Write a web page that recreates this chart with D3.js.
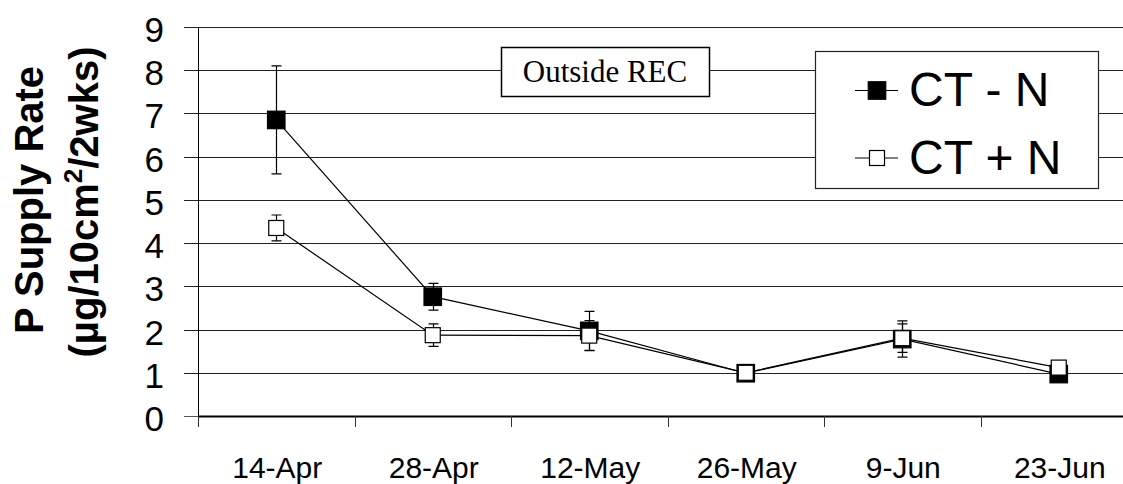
<!DOCTYPE html>
<html>
<head>
<meta charset="utf-8">
<script src="https://cdn.jsdelivr.net/npm/d3@7"></script>
<style>
  body { margin: 0; background: #fff; }
  svg { display: block; }
</style>
</head>
<body>
<svg id="chart"></svg>
<script>
'use strict'

const dates = ['14-Apr', '28-Apr', '12-May', '26-May', '9-Jun', '23-Jun']
const ctMinusN = [6.85, 2.76, 1.97, 0.99, 1.78, 0.97]
const ctMinusNErr = [1.25, 0.31, 0.45, 0.05, 0.42, 0.05]
const ctPlusN = [4.35, 1.87, 1.86, 1.0, 1.8, 1.12]
const ctPlusNErr = [0.3, 0.26, 0.35, 0.05, 0.33, 0.05]
const yTicks = [0, 1, 2, 3, 4, 5, 6, 7, 8, 9]

const width = 1123
const height = 484
const plotLeft = 198
const plotTop = 27
const plotBottom = 416
const band = 156.5

const svg = d3.select('#chart')
  .attr('width', width)
  .attr('height', height)
  .attr('font-family', 'Arial, "Liberation Sans", sans-serif')

const x = d3.scaleBand()
  .domain(dates)
  .range([plotLeft, plotLeft + band * dates.length])

const y = d3.scaleLinear()
  .domain([0, 9])
  .range([plotBottom, plotTop])

const cx = d => x(d) + x.bandwidth() / 2

// gridlines + y ticks
svg.append('g')
  .selectAll('line')
  .data(yTicks.filter(d => d > 0))
  .enter().append('line')
  .attr('x1', plotLeft - 14)
  .attr('x2', width)
  .attr('y1', d => Math.round(y(d)) + 0.5)
  .attr('y2', d => Math.round(y(d)) + 0.5)
  .attr('stroke', '#222')
  .attr('stroke-width', 1)

svg.append('line')
  .attr('x1', plotLeft - 14)
  .attr('x2', plotLeft)
  .attr('y1', Math.round(y(0)) + 0.5)
  .attr('y2', Math.round(y(0)) + 0.5)
  .attr('stroke', '#555')

// y axis line
svg.append('line')
  .attr('x1', plotLeft + 0.5)
  .attr('x2', plotLeft + 0.5)
  .attr('y1', y(9))
  .attr('y2', y(0) + 10)
  .attr('stroke', '#000')

svg.append('g')
  .attr('font-size', 35)
  .attr('text-anchor', 'end')
  .selectAll('text')
  .data(yTicks)
  .enter().append('text')
  .attr('x', 164)
  .attr('y', d => y(d) + 15)
  .text(d => d)

// x axis
svg.append('line')
  .attr('x1', plotLeft)
  .attr('x2', width)
  .attr('y1', y(0) + 0.5)
  .attr('y2', y(0) + 0.5)
  .attr('stroke', '#000')
  .attr('stroke-width', 2.2)

svg.append('g')
  .selectAll('line')
  .data(dates)
  .enter().append('line')
  .attr('x1', d => Math.round(x(d)) + 0.5)
  .attr('x2', d => Math.round(x(d)) + 0.5)
  .attr('y1', y(0))
  .attr('y2', y(0) + 11)
  .attr('stroke', '#333')

svg.append('g')
  .attr('font-size', 30)
  .attr('text-anchor', 'middle')
  .selectAll('text')
  .data(dates)
  .enter().append('text')
  .attr('x', d => cx(d) + 1)
  .attr('y', 478)
  .text(d => d)

// y axis title
const title = svg.append('text')
  .attr('transform', 'translate(43,200) rotate(-90)')
  .attr('text-anchor', 'middle')
  .attr('font-size', 40)
  .attr('font-weight', 'bold')
title.append('tspan').attr('x', 0).attr('y', 0).text('P Supply Rate')
const sub = svg.append('text')
  .attr('transform', 'translate(98,202) rotate(-90)')
  .attr('text-anchor', 'middle')
  .attr('font-size', 40)
  .attr('font-weight', 'bold')
sub.append('tspan').text('(\u00b5g/10cm')
sub.append('tspan').attr('font-size', 26).attr('dy', -16).text('2')
sub.append('tspan').attr('dy', 16).text('/2wks)')

// series (CT + N drawn last so its open squares sit on top)
const series = [
  { name: 'CT - N', values: ctMinusN, err: ctMinusNErr, fill: '#000', size: 17.5 },
  { name: 'CT + N', values: ctPlusN, err: ctPlusNErr, fill: '#fff', size: 15 }
]

const line = d3.line()
  .x((d, i) => cx(dates[i]))
  .y(d => y(d))

series.forEach(s => {
  svg.append('path')
    .datum(s.values)
    .attr('d', line)
    .attr('fill', 'none')
    .attr('stroke', '#000')
    .attr('stroke-width', 1.2)
})

series.forEach(s => {
  const g = svg.append('g')
  const pts = s.values.map((v, i) => ({ date: dates[i], v, e: s.err[i] }))
  g.selectAll('.err')
    .data(pts)
    .enter().append('path')
    .attr('d', d => {
      const px = Math.round(cx(d.date)) + 0.5
      const t = y(d.v + d.e)
      const b = y(d.v - d.e)
      return `M${px},${t}V${b}M${px - 5},${t}H${px + 5}M${px - 5},${b}H${px + 5}`
    })
    .attr('stroke', '#000')
    .attr('stroke-width', 1.2)
    .attr('fill', 'none')
  g.selectAll('rect')
    .data(pts)
    .enter().append('rect')
    .attr('x', d => cx(d.date) - s.size / 2)
    .attr('y', d => y(d.v) - s.size / 2)
    .attr('width', s.size)
    .attr('height', s.size)
    .attr('fill', s.fill)
    .attr('stroke', '#000')
    .attr('stroke-width', 1.2)
})

// annotation box
svg.append('rect')
  .attr('x', 501.5)
  .attr('y', 47.5)
  .attr('width', 208)
  .attr('height', 49)
  .attr('fill', '#fff')
  .attr('stroke', '#000')
  .attr('stroke-width', 1.5)
svg.append('text')
  .attr('x', 605)
  .attr('y', 82)
  .attr('text-anchor', 'middle')
  .attr('font-family', '"Liberation Serif", "Times New Roman", serif')
  .attr('font-size', 31)
  .text('Outside REC')

// legend
const legend = svg.append('g')
legend.append('rect')
  .attr('x', 815.5)
  .attr('y', 51.5)
  .attr('width', 283)
  .attr('height', 137)
  .attr('fill', '#fff')
  .attr('stroke', '#222')
  .attr('stroke-width', 1.2)

series.forEach((s, i) => {
  const ly = 90.5 + i * 67.5
  legend.append('line')
    .attr('x1', 855)
    .attr('x2', 898)
    .attr('y1', ly)
    .attr('y2', ly)
    .attr('stroke', '#000')
    .attr('stroke-width', 1.2)
  legend.append('rect')
    .attr('x', 877 - s.size / 2)
    .attr('y', ly - s.size / 2)
    .attr('width', s.size)
    .attr('height', s.size)
    .attr('fill', s.fill)
    .attr('stroke', '#000')
    .attr('stroke-width', 1.2)
  legend.append('text')
    .attr('x', 909)
    .attr('y', ly + 15 + i * 1)
    .attr('font-size', 48)
    .text(s.name)
})
</script>
</body>
</html>
